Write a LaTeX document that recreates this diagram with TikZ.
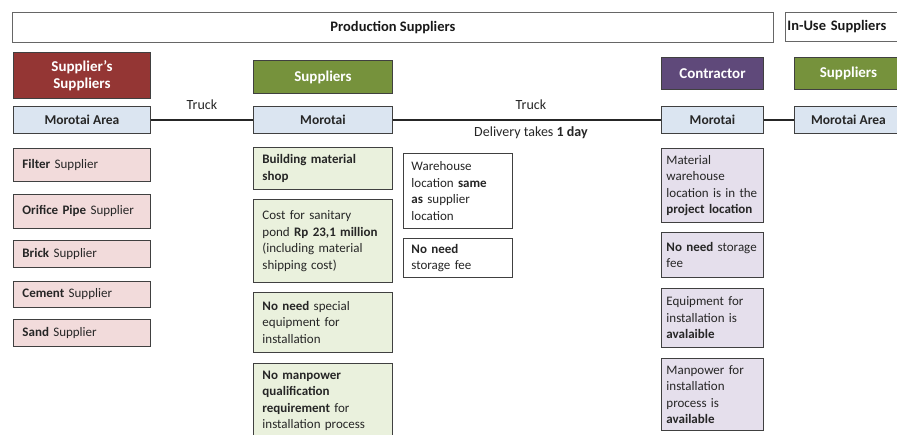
\documentclass[tikz,border=0pt]{standalone}
\usepackage{fontspec}
\setmainfont{Carlito}
\usepackage{tikz}

\definecolor{hdrred}{HTML}{943634}
\definecolor{hdrgreen}{HTML}{76923C}
\definecolor{hdrpurple}{HTML}{5F497A}
\definecolor{paleblue}{HTML}{DBE5F1}
\definecolor{palepink}{HTML}{F2DBDB}
\definecolor{palegreen}{HTML}{EAF1DD}
\definecolor{palelilac}{HTML}{E5DFEC}

\begin{document}
\begin{tikzpicture}[x=1pt, y=-1pt,
    bar/.style={draw=black!60, line width=0.8pt, anchor=north west, inner sep=0pt, font=\fontsize{14.5}{17}\selectfont\bfseries, text=black!90},
    head/.style={draw=black!75, line width=0.9pt, anchor=north west, inner sep=0pt, font=\fontsize{15}{17}\selectfont\bfseries, text=white, align=center},
    place/.style={draw=black!75, line width=0.9pt, anchor=north west, inner sep=0pt, fill=paleblue, font=\fontsize{13.5}{16}\selectfont\bfseries, text=black!85},
    box/.style={draw=black!75, line width=0.9pt, anchor=north west, inner ysep=0pt, font=\fontsize{13}{16.5}\selectfont, text=black!85, align=left},
    pinkbox/.style={box, fill=palepink, inner xsep=9pt, text width=119pt},
    greenbox/.style={box, fill=palegreen, inner xsep=9pt, text width=121pt},
    whitebox/.style={box, fill=white, inner xsep=8pt, text width=93pt},
    lilacbox/.style={box, fill=palelilac, inner xsep=5pt, text width=92pt},
    link/.style={line width=1.4pt, black!85},
    lbl/.style={inner sep=0pt, font=\fontsize{14}{16}\selectfont, text=black!85}]
    \useasboundingbox (0,0) rectangle (897,435);
    \clip (0,0) rectangle (897,435);

    % top bars
    \node[bar, minimum width=761pt, minimum height=30pt] (prod) at (12,12) {Production Suppliers};
    \node[bar, minimum height=29pt, text width=127pt, inner xsep=2pt, align=left] (inuse) at (785,12) {In-Use Suppliers};

    % headers
    \node[head, fill=hdrred, minimum width=137pt, minimum height=46pt] (hdrss) at (13,52) {Supplier’s\\Suppliers};
    \node[head, fill=hdrgreen, minimum width=139pt, minimum height=33pt] (hdrsup) at (253,60) {Suppliers};
    \node[head, fill=hdrpurple, minimum width=102pt, minimum height=32pt] (hdrcon) at (661,57) {Contractor};
    \node[head, fill=hdrgreen, minimum width=108pt, minimum height=32pt] (hdriu) at (794,57) {Suppliers};

    % locations
    \node[place, minimum width=137pt, minimum height=27pt] (ssarea) at (13,106) {Morotai Area};
    \node[place, minimum width=139pt, minimum height=27pt] (supmor) at (253,106) {Morotai};
    \node[place, minimum width=102pt, minimum height=27pt] (conmor) at (661,106) {Morotai};
    \node[place, minimum width=108pt, minimum height=27pt] (iuarea) at (794,106) {Morotai Area};

    % transport
    \draw[link] (ssarea) -- (supmor) node[lbl, midway, above=10pt] (truck1) {Truck};
    \draw[link] (supmor) -- (conmor) node[lbl, midway, above=10pt, xshift=4pt] (truck2) {Truck}
        node[lbl, midway, below=6pt, xshift=4pt] (delivery) {Delivery takes \textbf{1 day}};
    \draw[link] (conmor) -- (iuarea);

    % supplier's suppliers
    \node[pinkbox, minimum height=33pt] (filter) at (13,148) {\textbf{Filter} Supplier};
    \node[pinkbox, minimum height=34pt] (orifice) at (13,194) {\textbf{Orifice Pipe} Supplier};
    \node[pinkbox, minimum height=27pt] (brick) at (13,240) {\textbf{Brick} Supplier};
    \node[pinkbox, minimum height=26pt] (cement) at (13,281) {\textbf{Cement} Supplier};
    \node[pinkbox, minimum height=27pt] (sand) at (13,319) {\textbf{Sand} Supplier};

    % suppliers
    \node[greenbox, minimum height=42pt] (shop) at (253,147) {\textbf{Building material}\\\textbf{shop}};
    \node[greenbox, minimum height=83pt] (cost) at (253,199) {Cost for sanitary\\pond \textbf{Rp 23,1 million}\\(including material\\shipping cost)};
    \node[greenbox, minimum height=60pt] (special) at (253,292) {\textbf{No need} special\\equipment for\\installation};
    \node[greenbox, minimum height=75pt] (qualif) at (253,363) {\textbf{No manpower}\\\textbf{qualification}\\\textbf{requirement} for\\installation process};

    % warehouse
    \node[whitebox, minimum height=75pt] (wareh) at (403,153) {Warehouse\\location \textbf{same}\\\textbf{as} supplier\\location};
    \node[whitebox, minimum height=39pt] (storfee) at (403,238) {\textbf{No need}\\storage fee};

    % contractor
    \node[lilacbox, minimum height=74pt] (matwh) at (661,148) {Material\\warehouse\\location is in the\\\textbf{project location}};
    \node[lilacbox, minimum height=45pt] (constor) at (661,232) {\textbf{No need} storage\\fee};
    \node[lilacbox, minimum height=59pt] (equip) at (661,288) {Equipment for\\installation is\\\textbf{avalaible}};
    \node[lilacbox, minimum height=72pt] (manpow) at (661,358) {Manpower for\\installation\\process is\\\textbf{available}};

\end{tikzpicture}
\end{document}
